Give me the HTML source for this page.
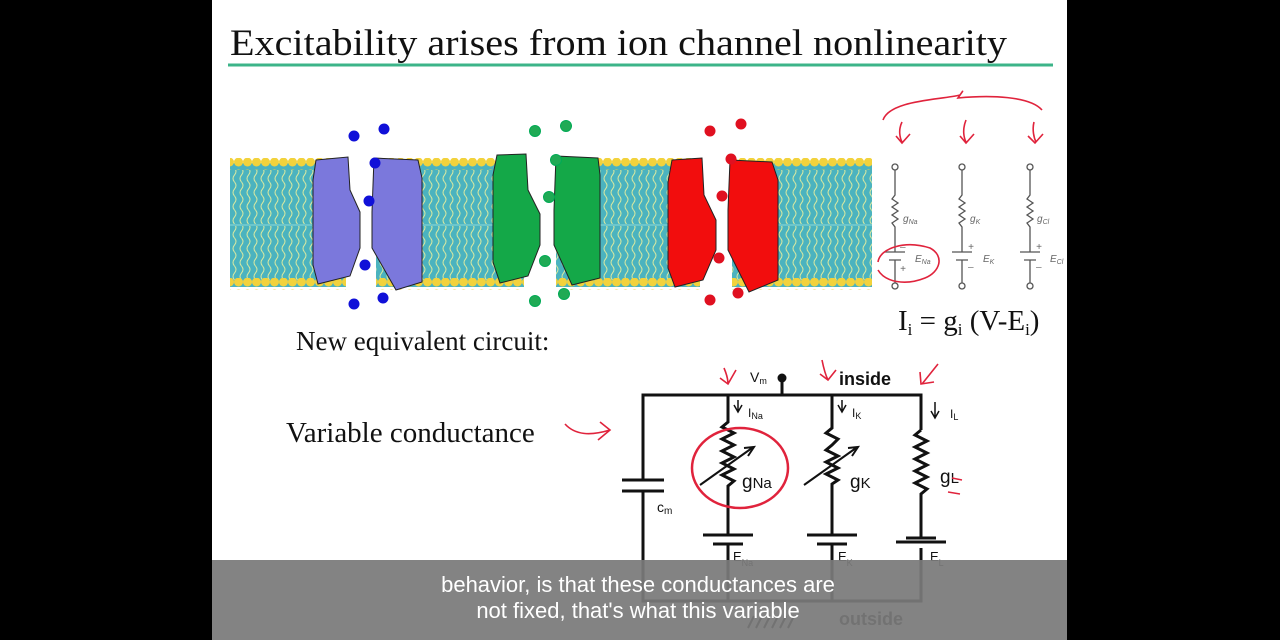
<!DOCTYPE html>
<html><head><meta charset="utf-8"><style>
body{margin:0;background:#000;width:1280px;height:640px;overflow:hidden}
svg{display:block}
.serif{font-family:"Liberation Serif",serif}
.sans{font-family:"Liberation Sans",sans-serif}
</style></head><body>
<svg width="1280" height="640" viewBox="0 0 1280 640">
<defs>
<pattern id="lip" width="7" height="14" patternUnits="userSpaceOnUse">
<path d="M3.5 0 q3 3.5 0 7 q-3 3.5 0 7" stroke="#d8e8a0" stroke-width="1" fill="none"/>
</pattern>
<pattern id="heads" width="9" height="12" patternUnits="userSpaceOnUse">
<circle cx="4.5" cy="6" r="4.5" fill="#f2d23c"/>
</pattern>
</defs>
<rect x="0" y="0" width="1280" height="640" fill="#000"/>
<rect x="212" y="0" width="855" height="640" fill="#fff"/>
<text x="230" y="55" class="serif" font-size="37" fill="#111" textLength="777" lengthAdjust="spacingAndGlyphs">Excitability arises from ion channel nonlinearity</text>
<line x1="228" y1="65" x2="1053" y2="65" stroke="#3cb489" stroke-width="3"/>

<g>
<rect x="230" y="163" width="642" height="124" fill="#4bb3bf"/>
<rect x="230" y="170" width="642" height="110" fill="url(#lip)"/>
<line x1="230" y1="225" x2="872" y2="225" stroke="#6cc6cc" stroke-width="2"/>
<rect x="230" y="158" width="642" height="12" fill="url(#heads)"/>
<rect x="230" y="278" width="642" height="12" fill="url(#heads)"/>
</g>
<rect x="346" y="150" width="30" height="150" fill="#fff"/>
<rect x="524" y="150" width="32" height="150" fill="#fff"/>
<rect x="700" y="150" width="32" height="150" fill="#fff"/>

<g stroke="#222" stroke-width="1">
<path d="M316 160 L348 157 L350 190 L360 212 L360 248 L350 276 L318 284 L313 265 L313 180 Z" fill="#7b78dc"/>
<path d="M374 158 L418 160 L422 178 L422 282 L396 290 L372 248 L372 212 Z" fill="#7b78dc"/>
<path d="M497 155 L526 154 L528 190 L540 214 L540 245 L528 276 L500 283 L493 262 L493 175 Z" fill="#14a848"/>
<path d="M556 156 L598 158 L600 175 L600 278 L572 285 L554 245 L554 210 Z" fill="#14a848"/>
<path d="M672 160 L702 158 L704 195 L716 220 L716 250 L703 280 L675 287 L668 268 L668 182 Z" fill="#f20d0d"/>
<path d="M730 160 L772 162 L778 180 L778 280 L749 292 L728 250 L728 210 Z" fill="#f20d0d"/>
</g>
<g fill="#1010d8">
<circle cx="354" cy="136" r="5.5"/><circle cx="384" cy="129" r="5.5"/><circle cx="375" cy="163" r="5.5"/><circle cx="369" cy="201" r="5.5"/><circle cx="365" cy="265" r="5.5"/><circle cx="354" cy="304" r="5.5"/><circle cx="383" cy="298" r="5.5"/>
</g>
<g fill="#20aa55" stroke="#0a5">
<circle cx="535" cy="131" r="5.5"/><circle cx="566" cy="126" r="5.5"/><circle cx="556" cy="160" r="5.5"/><circle cx="549" cy="197" r="5.5"/><circle cx="545" cy="261" r="5.5"/><circle cx="535" cy="301" r="5.5"/><circle cx="564" cy="294" r="5.5"/>
</g>
<g fill="#e01020">
<circle cx="710" cy="131" r="5.5"/><circle cx="741" cy="124" r="5.5"/><circle cx="731" cy="159" r="5.5"/><circle cx="722" cy="196" r="5.5"/><circle cx="719" cy="258" r="5.5"/><circle cx="710" cy="300" r="5.5"/><circle cx="738" cy="293" r="5.5"/>
</g>

<g stroke="#555" stroke-width="1.3" fill="none">
<circle cx="895" cy="167" r="3" fill="#fff"/><circle cx="962" cy="167" r="3" fill="#fff"/><circle cx="1030" cy="167" r="3" fill="#fff"/>
<circle cx="895" cy="286" r="3" fill="#fff"/><circle cx="962" cy="286" r="3" fill="#fff"/><circle cx="1030" cy="286" r="3" fill="#fff"/>
<path d="M895 170 V195 l-3 4 l6 4 l-6 4 l6 4 l-6 4 l6 4 l-6 4 l3 4 V252 M885 252 H905 M889 260 H901 M895 260 V283"/>
<path d="M962 170 V195 l-3 4 l6 4 l-6 4 l6 4 l-6 4 l6 4 l-6 4 l3 4 V252 M952 252 H972 M956 260 H968 M962 260 V283"/>
<path d="M1030 170 V195 l-3 4 l6 4 l-6 4 l6 4 l-6 4 l6 4 l-6 4 l3 4 V252 M1020 252 H1040 M1024 260 H1036 M1030 260 V283"/>
</g>
<g class="sans" font-size="10" fill="#666" font-style="italic">
<text x="903" y="222">g<tspan font-size="7" dy="2">Na</tspan></text>
<text x="970" y="222">g<tspan font-size="7" dy="2">K</tspan></text>
<text x="1037" y="222">g<tspan font-size="7" dy="2">Cl</tspan></text>
<text x="915" y="262">E<tspan font-size="7" dy="2">Na</tspan></text>
<text x="983" y="262">E<tspan font-size="7" dy="2">K</tspan></text>
<text x="1050" y="262">E<tspan font-size="7" dy="2">Cl</tspan></text>
<text x="900" y="250">–</text><text x="900" y="272">+</text>
<text x="968" y="250">+</text><text x="968" y="270">–</text>
<text x="1036" y="250">+</text><text x="1036" y="270">–</text>
</g>
<text x="898" y="330" class="serif" font-size="29" fill="#111">I<tspan font-size="17" dy="5">i</tspan><tspan dy="-5"> = g</tspan><tspan font-size="17" dy="5">i</tspan><tspan dy="-5"> (V-E</tspan><tspan font-size="17" dy="5">i</tspan><tspan dy="-5">)</tspan></text>

<text x="296" y="350" class="serif" font-size="27" fill="#111">New equivalent circuit:</text>
<text x="286" y="442" class="serif" font-size="29" fill="#111">Variable conductance</text>

<g stroke="#111" stroke-width="3" fill="none">
<path d="M643 480 V395 H921 V430 M643 491 V601 H921 V560"/>
<path d="M782 395 V380"/>
<path d="M622 480 H664 M622 491 H664"/>
<path d="M728 395 V422 l-6 5 l12 6 l-12 6 l12 6 l-12 6 l12 6 l-12 6 l12 6 l-12 6 l12 6 l-6 5 V535 M728 545 V601"/>
<path d="M703 535 H753 M713 544 H743"/>
<path d="M832 395 V428 l-6 5 l12 6 l-6 6 l-6 5 l12 6 l-12 6 l12 6 l-12 6 l12 6 l-6 4 V535 M832 545 V601"/>
<path d="M807 535 H857 M817 544 H847"/>
<path d="M921 430 l-6 5 l12 6 l-12 6 l12 6 l-12 6 l12 6 l-12 6 l12 6 l-12 6 l12 6 l-6 5 V538 M921 548 V601"/>
<path d="M896 542 H946 M906 538 H936" stroke-width="3"/>
<path d="M700 485 L752 448 M744 448 L754 447 L748 456" stroke-width="2"/>
<path d="M804 485 L856 448 M848 448 L858 447 L852 456" stroke-width="2"/>
<path d="M738 412 V400 M734 405 L738 412 L742 405 M842 412 V400 M838 405 L842 412 L846 405 M935 418 V402 M931 411 L935 418 L939 411" stroke-width="1.5"/>
<path d="M748 628 l6 -12 M756 628 l6 -12 M764 628 l6 -12 M772 628 l6 -12 M780 628 l6 -12 M788 628 l6 -12" stroke-width="2"/>
</g>
<circle cx="782" cy="378" r="4.5" fill="#111"/>
<g class="sans" fill="#111">
<text x="750" y="382" font-size="14">V<tspan font-size="9" dy="2">m</tspan></text>
<text x="839" y="385" font-size="18" font-weight="bold">inside</text>
<text x="748" y="417" font-size="12">I<tspan font-size="9" dy="2">Na</tspan></text>
<text x="852" y="417" font-size="12">I<tspan font-size="9" dy="2">K</tspan></text>
<text x="950" y="418" font-size="12">I<tspan font-size="9" dy="2">L</tspan></text>
<text x="742" y="488" font-size="19">g<tspan font-size="15">Na</tspan></text>
<text x="850" y="488" font-size="19">g<tspan font-size="15">K</tspan></text>
<text x="940" y="483" font-size="19">g<tspan font-size="15">L</tspan></text>
<text x="657" y="512" font-size="14">c<tspan font-size="10" dy="2">m</tspan></text>
<text x="733" y="561" font-size="13">E<tspan font-size="9" dy="5">Na</tspan></text>
<text x="838" y="561" font-size="13">E<tspan font-size="9" dy="5">K</tspan></text>
<text x="930" y="561" font-size="13">E<tspan font-size="9" dy="5">L</tspan></text>
<text x="839" y="625" font-size="18" font-weight="bold">outside</text>
</g>

<g stroke="#e0233c" stroke-width="1.6" fill="none">
<ellipse cx="740" cy="468" rx="48" ry="40" stroke-width="2.5"/>
<path d="M883 120 C890 100 940 100 960 95 C965 88 962 92 958 98 C990 95 1030 96 1042 110"/>
<path d="M902 122 C898 130 900 138 902 142 M896 136 L902 143 L910 134"/>
<path d="M966 120 C962 130 964 138 966 142 M960 136 L966 143 L974 134"/>
<path d="M1034 122 C1032 130 1034 138 1036 142 M1028 136 L1035 143 L1043 134"/>
<path d="M878 262 C880 248 905 240 930 248 C945 256 940 272 925 278 C905 286 885 282 878 270"/>
<path d="M724 368 C727 375 728 380 728 384 M720 378 L728 384 L736 370"/>
<path d="M822 360 C824 370 826 376 828 380 M820 374 L828 380 L836 370"/>
<path d="M938 364 L922 384 M920 372 L921 384 L934 382"/>
<path d="M565 424 C575 435 590 436 610 430 M600 422 L610 430 L598 440"/>
<path d="M952 478 L962 480 M948 492 L960 494"/>
</g>

<rect x="212" y="560" width="855" height="80" fill="#7a7a7a" opacity="0.93"/>
<g class="sans" font-size="22" fill="#fff" text-anchor="middle">
<text x="638" y="592">behavior, is that these conductances are</text>
<text x="638" y="618">not fixed, that's what this variable</text>
</g>
</svg>
</body></html>
